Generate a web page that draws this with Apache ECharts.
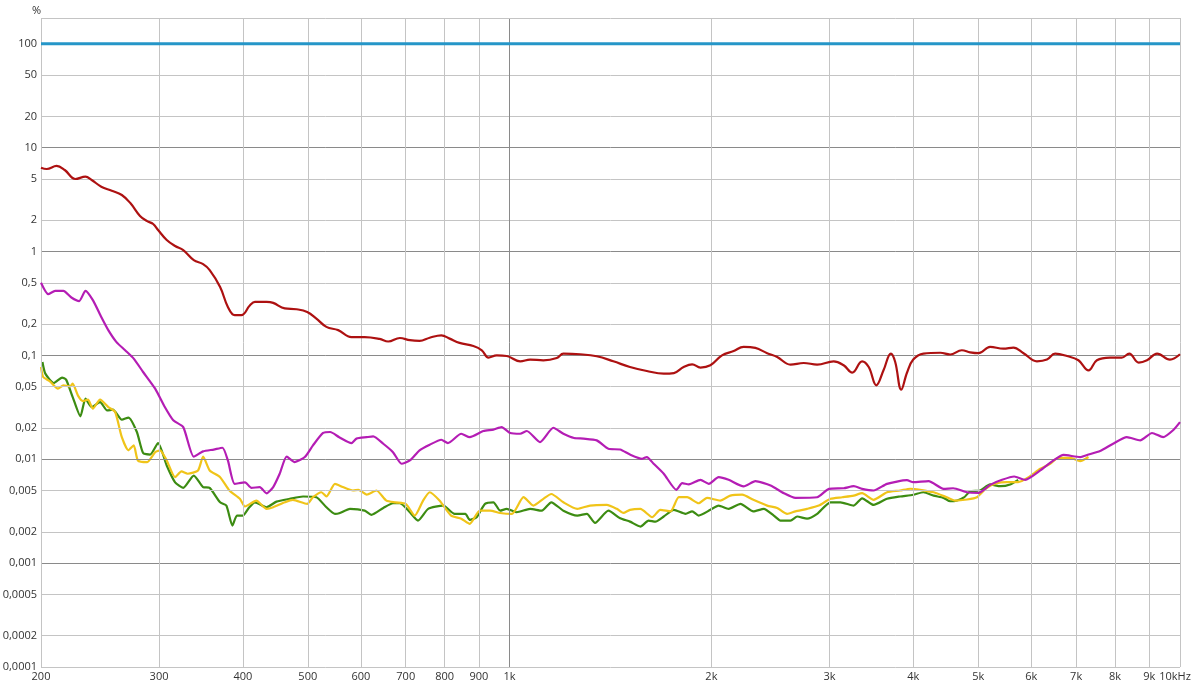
<!DOCTYPE html>
<html>
<head>
<meta charset="utf-8">
<script src="https://cdn.jsdelivr.net/npm/echarts@6/dist/echarts.min.js"></script>
<style>html,body{margin:0;padding:0;background:#fff}#c{width:1200px;height:690px}</style>
</head>
<body>
<div id="c"></div>
<script>
// ---- axis ticks ----
const xTicks = [200,300,400,500,600,700,800,900,1000,2000,3000,4000,5000,6000,7000,8000,9000,10000];
const xTickLabels = ['200','300','400','500','600','700','800','900','1k','2k','3k','4k','5k','6k','7k','8k','9k','10kHz'];
const xMajor = [1000];
const yTicks = [100,50,20,10,5,2,1,0.5,0.2,0.1,0.05,0.02,0.01,0.005,0.002,0.001,0.0005,0.0002,0.0001];
const yTickLabels = ['100','50','20','10','5','2','1','0,5','0,2','0,1','0,05','0,02','0,01','0,005','0,002','0,001','0,0005','0,0002','0,0001'];
const yMajor = [10,1,0.1,0.01,0.001];
const yMin = 0.0001, yMax = 177, xMin = 200, xMax = 10000;
const unitLabel = '%';

// ---- series [frequency Hz, percent] ----
const refLevel = [[200,100],[10000,100]];

const redSeries = [[200,6.41],[204,6.23],[211,6.66],[217,6.09],[225,4.99],[233,5.25],[238,4.88],[246,4.21],[255,3.85],[264,3.50],[272,2.91],[281,2.20],[288,1.96],[294,1.84],[299,1.61],[308,1.29],[317,1.13],[326,1.03],[338,0.826],[349,0.756],[357,0.662],[370,0.456],[380,0.293],[389,0.244],[398,0.244],[410,0.304],[417,0.327],[434,0.327],[444,0.320],[462,0.283],[481,0.278],[499,0.262],[515,0.226],[533,0.188],[555,0.175],[581,0.150],[608,0.150],[640,0.144],[659,0.136],[686,0.147],[710,0.140],[734,0.138],[760,0.148],[791,0.156],[814,0.145],[842,0.132],[883,0.123],[909,0.112],[930,0.0952],[957,0.100],[990,0.0987],[1037,0.0877],[1073,0.0911],[1123,0.0897],[1176,0.0944],[1203,0.104],[1274,0.1025],[1349,0.098],[1428,0.0877],[1512,0.0773],[1602,0.0707],[1698,0.0667],[1758,0.0676],[1818,0.0773],[1872,0.0821],[1926,0.0763],[1993,0.0803],[2074,0.100],[2159,0.110],[2234,0.121],[2326,0.118],[2422,0.105],[2507,0.0965],[2624,0.0815],[2746,0.0845],[2876,0.0815],[3044,0.0877],[3150,0.0803],[3244,0.0683],[3356,0.0877],[3433,0.0773],[3524,0.0515],[3612,0.0718],[3705,0.104],[3760,0.0864],[3839,0.0468],[3915,0.068],[4000,0.0911],[4143,0.104],[4390,0.106],[4541,0.102],[4727,0.112],[4863,0.107],[5008,0.105],[5209,0.121],[5453,0.116],[5643,0.119],[5842,0.105],[6118,0.0877],[6332,0.0911],[6512,0.104],[6783,0.0987],[7055,0.0897],[7303,0.0718],[7517,0.0897],[7864,0.0952],[8185,0.0952],[8400,0.104],[8678,0.0852],[8928,0.0897],[9244,0.104],[9660,0.0911],[10000,0.1025]];

const magentaSeries = [[200,0.50],[205,0.388],[210,0.418],[216,0.418],[222,0.361],[228,0.333],[233,0.418],[239,0.340],[246,0.234],[252,0.175],[259,0.135],[267,0.112],[275,0.0931],[284,0.0692],[296,0.0478],[306,0.0318],[315,0.0237],[326,0.0204],[338,0.0106],[349,0.0119],[362,0.0124],[373,0.0129],[380,0.00974],[389,0.0058],[403,0.0060],[412,0.0053],[424,0.0054],[434,0.0047],[444,0.0054],[454,0.00725],[465,0.0106],[478,0.0094],[495,0.0105],[509,0.0136],[527,0.0179],[540,0.0183],[557,0.0163],[581,0.0143],[591,0.0158],[612,0.0163],[626,0.0166],[648,0.0141],[670,0.0117],[690,0.00905],[710,0.00974],[734,0.0122],[760,0.0138],[791,0.0154],[809,0.0143],[847,0.0176],[872,0.0163],[914,0.0187],[946,0.0193],[973,0.0204],[1002,0.0179],[1037,0.0176],[1061,0.0187],[1110,0.0146],[1162,0.0201],[1203,0.0176],[1248,0.0160],[1289,0.0158],[1349,0.0152],[1404,0.0126],[1462,0.0124],[1512,0.0111],[1576,0.0101],[1602,0.0105],[1640,0.00905],[1698,0.00725],[1773,0.00508],[1809,0.00588],[1851,0.00572],[1926,0.00634],[1982,0.0058],[2050,0.00672],[2122,0.00634],[2234,0.00547],[2326,0.00615],[2451,0.00559],[2566,0.00471],[2669,0.00425],[2876,0.00431],[2995,0.00519],[3150,0.00526],[3261,0.0055],[3356,0.00519],[3491,0.0050],[3656,0.0058],[3915,0.00629],[4000,0.00601],[4217,0.00615],[4440,0.00519],[4588,0.00526],[4812,0.00481],[5008,0.00475],[5209,0.00567],[5427,0.00634],[5658,0.00682],[5876,0.00634],[6188,0.0078],[6476,0.00974],[6702,0.0110],[7096,0.0105],[7303,0.0111],[7600,0.0120],[7947,0.0141],[8330,0.0163],[8722,0.0152],[9084,0.0179],[9437,0.0163],[9764,0.0190],[10000,0.0228]];

const greenSeries = [[201,0.0864],[203,0.0667],[209,0.0542],[215,0.0611],[218,0.0584],[223,0.0397],[229,0.0259],[233,0.0383],[238,0.0318],[245,0.0355],[251,0.0295],[256,0.0300],[264,0.0240],[270,0.0252],[278,0.0183],[284,0.0115],[291,0.0111],[299,0.0143],[308,0.00871],[317,0.0060],[326,0.0053],[338,0.00697],[349,0.0054],[357,0.0053],[370,0.00385],[378,0.00358],[386,0.0023],[392,0.00287],[400,0.00287],[409,0.00345],[417,0.00385],[434,0.00345],[449,0.00391],[470,0.00416],[492,0.00438],[515,0.00431],[533,0.00345],[549,0.00298],[557,0.00302],[578,0.00333],[608,0.0032],[622,0.00292],[648,0.0034],[670,0.00377],[686,0.00377],[710,0.00309],[730,0.00257],[756,0.00333],[796,0.00358],[828,0.00298],[859,0.00298],[872,0.00261],[893,0.00277],[919,0.00372],[946,0.00385],[968,0.0032],[990,0.00333],[1025,0.00309],[1073,0.00333],[1117,0.0032],[1154,0.00385],[1203,0.0032],[1262,0.00287],[1304,0.00298],[1341,0.00244],[1404,0.0032],[1462,0.0027],[1512,0.00251],[1567,0.00225],[1612,0.00257],[1650,0.00251],[1698,0.00281],[1758,0.00326],[1830,0.00298],[1872,0.00315],[1914,0.00287],[1993,0.00326],[2050,0.00358],[2122,0.00333],[2210,0.00372],[2310,0.00315],[2394,0.00333],[2478,0.00287],[2535,0.00257],[2624,0.00257],[2685,0.00281],[2778,0.00268],[2876,0.00298],[3010,0.00385],[3115,0.00385],[3261,0.00358],[3356,0.00421],[3491,0.00363],[3656,0.00416],[3824,0.00438],[4000,0.00455],[4143,0.00481],[4291,0.00447],[4440,0.00425],[4541,0.00394],[4651,0.00401],[4767,0.00431],[4863,0.00492],[5032,0.0050],[5209,0.00572],[5397,0.0055],[5580,0.00572],[5736,0.00634]];

const yellowSeries = [[200,0.0773],[201.5,0.0619],[206,0.0566],[212,0.0478],[216,0.0515],[221,0.0503],[223,0.0534],[227,0.0412],[231,0.0363],[235,0.0375],[239,0.0307],[245,0.0375],[252,0.0318],[258,0.0285],[264,0.0163],[270,0.0122],[275,0.0136],[279,0.00974],[288,0.0094],[296,0.0117],[301,0.0122],[308,0.00974],[317,0.00672],[324,0.00763],[331,0.00725],[343,0.0078],[349,0.0106],[357,0.0078],[370,0.00672],[382,0.0050],[396,0.00416],[403,0.00351],[419,0.0040],[434,0.00333],[444,0.00345],[462,0.00385],[475,0.00407],[499,0.00372],[509,0.00431],[524,0.00481],[533,0.00438],[549,0.0058],[564,0.0054],[584,0.0050],[595,0.00508],[612,0.00457],[633,0.0050],[655,0.0040],[676,0.00385],[700,0.00372],[722,0.00287],[743,0.0040],[760,0.00481],[786,0.0040],[818,0.00287],[847,0.00268],[872,0.00239],[903,0.0032],[935,0.0032],[968,0.00304],[1008,0.00298],[1049,0.00431],[1085,0.00358],[1123,0.00416],[1154,0.00463],[1203,0.00385],[1262,0.00333],[1318,0.00358],[1396,0.00363],[1445,0.00333],[1478,0.00304],[1512,0.00326],[1567,0.00333],[1632,0.00277],[1678,0.00326],[1738,0.00315],[1788,0.00431],[1840,0.00431],[1914,0.00377],[1970,0.00425],[2062,0.0040],[2134,0.00447],[2223,0.00457],[2310,0.00407],[2422,0.00358],[2507,0.0034],[2594,0.00298],[2669,0.00315],[2778,0.00333],[2892,0.00358],[3010,0.00416],[3134,0.00431],[3261,0.00447],[3356,0.00471],[3491,0.00407],[3656,0.00481],[3824,0.0050],[3960,0.0052],[4096,0.00508],[4291,0.00481],[4487,0.00431],[4621,0.0040],[4812,0.0041],[4978,0.00431],[5152,0.00531],[5331,0.00588],[5519,0.00601],[5736,0.00601],[5946,0.00672],[6188,0.0081],[6402,0.00905],[6581,0.0103],[6861,0.0103],[7096,0.0096],[7303,0.0105]];

// ---- styling ----
const FONT = '"Open Sans", "Noto Sans", sans-serif';
const TEXT = '#333333';
const LIGHT = '#c4c4c4';
const DARK = '#8a8a8a';

const gridLines = [];
yTicks.forEach((v, i) => {
  gridLines.push({
    yAxis: v,
    lineStyle: { color: yMajor.includes(v) ? DARK : LIGHT },
    label: { show: true, position: 'start', formatter: () => yTickLabels[i] }
  });
});
xTicks.forEach((v, i) => {
  const last = i === xTicks.length - 1;
  gridLines.push({
    xAxis: v,
    lineStyle: { color: xMajor.includes(v) ? DARK : LIGHT },
    label: { show: true, position: 'start', offset: last ? [-5, 0] : [0, 0], formatter: () => xTickLabels[i] }
  });
});
gridLines.push({ yAxis: yMax, lineStyle: { color: LIGHT }, label: { show: false } });

function curve(name, data, color, width, smooth, z) {
  return {
    name, type: 'line', data, showSymbol: false, symbol: 'none', smooth,
    lineStyle: { color, width }, itemStyle: { color }, z, silent: true, animation: false, clip: true
  };
}

const chart = echarts.init(document.getElementById('c'), null, { renderer: 'canvas' });
chart.setOption({
  backgroundColor: '#ffffff',
  animation: false,
  title: { text: unitLabel, left: 27, top: 0, textStyle: { fontSize: 11, fontWeight: 'normal', color: TEXT, fontFamily: FONT } },
  grid: { left: 41, right: 20, top: 18, bottom: 23 },
  xAxis: { type: 'log', logBase: 10, min: xMin, max: xMax, axisLine: { show: false }, axisTick: { show: false }, axisLabel: { show: false }, splitLine: { show: false } },
  yAxis: { type: 'log', logBase: 10, min: yMin, max: yMax, axisLine: { show: false }, axisTick: { show: false }, axisLabel: { show: false }, splitLine: { show: false } },
  series: [
    {
      name: 'grid', type: 'line', data: [], z: 1, silent: true, animation: false,
      markLine: {
        silent: true, animation: false, symbol: ['none', 'none'], precision: 10,
        lineStyle: { type: 'solid', width: 1 },
        label: { color: TEXT, fontSize: 11, fontFamily: FONT, distance: 4 },
        emphasis: { disabled: true },
        data: gridLines
      }
    },
    curve('green', greenSeries, '#3c8c12', 2.2, 0.2, 3),
    curve('yellow', yellowSeries, '#f0c419', 2.2, 0.2, 4),
    curve('magenta', magentaSeries, '#b41db4', 2.2, 0.2, 5),
    curve('red', redSeries, '#ad1111', 2.2, 0.4, 6),
    curve('reference', refLevel, '#2596c8', 3, false, 7)
  ]
});
</script>
</body>
</html>
